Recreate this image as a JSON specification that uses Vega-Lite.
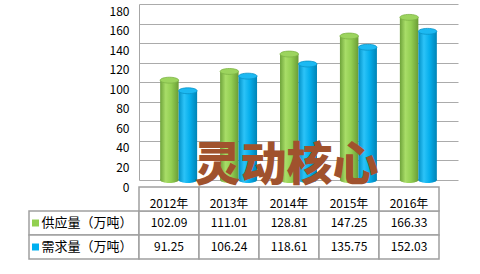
{
  "$schema": "https://vega.github.io/schema/vega-lite/v6.json",
  "autosize": {"type": "pad"},
  "padding": {"left": 28, "top": 4, "right": 23, "bottom": 15},
  "background": "white",
  "bounds": "flush",
  "columns": 2,
  "spacing": {"row": 7, "column": 0},
  "config": {
    "view": {"stroke": null},
    "font": "Noto Sans CJK SC",
    "text": {"font": "Noto Sans CJK SC"}
  },
  "datasets": {
    "d": [
      {"year": "2012年", "series": "供应量（万吨）", "value": 102.09},
      {"year": "2012年", "series": "需求量（万吨）", "value": 91.25},
      {"year": "2013年", "series": "供应量（万吨）", "value": 111.01},
      {"year": "2013年", "series": "需求量（万吨）", "value": 106.24},
      {"year": "2014年", "series": "供应量（万吨）", "value": 128.81},
      {"year": "2014年", "series": "需求量（万吨）", "value": 118.61},
      {"year": "2015年", "series": "供应量（万吨）", "value": 147.25},
      {"year": "2015年", "series": "需求量（万吨）", "value": 135.75},
      {"year": "2016年", "series": "供应量（万吨）", "value": 166.33},
      {"year": "2016年", "series": "需求量（万吨）", "value": 152.03}
    ]
  },
  "concat": [
    {
      "width": 110,
      "height": 176,
      "data": {"values": [{"blank": ""}]},
      "mark": {"type": "text", "opacity": 0},
      "encoding": {"text": {"field": "blank"}}
    },
    {
      "width": 319,
      "height": 176,
      "layer": [
        {
          "data": {"name": "d"},
          "transform": [{"filter": "datum.series === '供应量（万吨）'"}],
          "layer": [
            {
              "mark": {
                "type": "bar",
                "fill": {"gradient": "linear", "x1": 0, "y1": 0, "x2": 1, "y2": 0,
                  "stops": [{"offset": 0, "color": "#6ea33a"}, {"offset": 0.3, "color": "#a8dd68"}, {"offset": 0.6, "color": "#93cf52"}, {"offset": 1, "color": "#6a9c36"}]}
              },
              "encoding": {
                "x": {"field": "year", "type": "nominal", "axis": null, "scale": {"paddingInner": 0.383, "paddingOuter": 0.353}},
                "xOffset": {"field": "series", "type": "nominal", "scale": {"domain": ["供应量（万吨）", "需求量（万吨）"], "paddingInner": 0, "paddingOuter": 0}},
                "y": {"field": "value", "type": "quantitative",
                  "scale": {"domain": [0, 180], "nice": false},
                  "axis": {"values": [0, 20, 40, 60, 80, 100, 120, 140, 160, 180], "tickCount": 20, "grid": true, "gridColor": "#ababab", "gridWidth": 1,
                    "domainColor": "#a6a6a6", "ticks": false, "labelPadding": 10, "labelOffset": 7, "labelFontSize": 12,
                    "labelOverlap": false, "labelBound": false, "labelFlush": false,
                    "labelColor": "#000000", "labelFont": "Noto Sans CJK SC", "title": null}}
              }
            },
            {
              "mark": {"type": "point", "shape": "M -1 0 A 1 0.32 0 1 1 1 0 A 1 0.32 0 1 1 -1 0 Z", "size": 339, "filled": true, "opacity": 1, "strokeWidth": 0,
                "fill": {"gradient": "linear", "x1": 0, "y1": 0, "x2": 1, "y2": 0,
                  "stops": [{"offset": 0, "color": "#6ea33a"}, {"offset": 0.3, "color": "#a8dd68"}, {"offset": 0.6, "color": "#93cf52"}, {"offset": 1, "color": "#6a9c36"}]}},
              "encoding": {
                "x": {"field": "year", "type": "nominal", "axis": null},
                "xOffset": {"field": "series", "type": "nominal"},
                "y": {"datum": 0, "type": "quantitative"}
              }
            },
            {
              "mark": {"type": "point", "shape": "M -1 0 A 1 0.32 0 1 1 1 0 A 1 0.32 0 1 1 -1 0 Z", "size": 339, "filled": true, "opacity": 1, "fill": "#9cd45e", "stroke": "#7db446", "strokeWidth": 0.8},
              "encoding": {
                "x": {"field": "year", "type": "nominal", "axis": null},
                "xOffset": {"field": "series", "type": "nominal"},
                "y": {"field": "value", "type": "quantitative"}
              }
            }
          ]
        },
        {
          "data": {"name": "d"},
          "transform": [{"filter": "datum.series === '需求量（万吨）'"}],
          "layer": [
            {
              "mark": {
                "type": "bar",
                "fill": {"gradient": "linear", "x1": 0, "y1": 0, "x2": 1, "y2": 0,
                  "stops": [{"offset": 0, "color": "#0090c6"}, {"offset": 0.3, "color": "#2cc3f8"}, {"offset": 0.6, "color": "#06afec"}, {"offset": 1, "color": "#0083b5"}]}
              },
              "encoding": {
                "x": {"field": "year", "type": "nominal", "axis": null},
                "xOffset": {"field": "series", "type": "nominal"},
                "y": {"field": "value", "type": "quantitative"}
              }
            },
            {
              "mark": {"type": "point", "shape": "M -1 0 A 1 0.32 0 1 1 1 0 A 1 0.32 0 1 1 -1 0 Z", "size": 339, "filled": true, "opacity": 1, "strokeWidth": 0,
                "fill": {"gradient": "linear", "x1": 0, "y1": 0, "x2": 1, "y2": 0,
                  "stops": [{"offset": 0, "color": "#0090c6"}, {"offset": 0.3, "color": "#2cc3f8"}, {"offset": 0.6, "color": "#06afec"}, {"offset": 1, "color": "#0083b5"}]}},
              "encoding": {
                "x": {"field": "year", "type": "nominal", "axis": null},
                "xOffset": {"field": "series", "type": "nominal"},
                "y": {"datum": 0, "type": "quantitative"}
              }
            },
            {
              "mark": {"type": "point", "shape": "M -1 0 A 1 0.32 0 1 1 1 0 A 1 0.32 0 1 1 -1 0 Z", "size": 339, "filled": true, "opacity": 1, "fill": "#1cb9f2", "stroke": "#0a93c6", "strokeWidth": 0.8},
              "encoding": {
                "x": {"field": "year", "type": "nominal", "axis": null},
                "xOffset": {"field": "series", "type": "nominal"},
                "y": {"field": "value", "type": "quantitative"}
              }
            }
          ]
        },
        {
          "data": {"values": [{"wm": "灵动核心"}]},
          "mark": {"type": "text", "fontSize": 46, "fontWeight": 900, "fill": "#a0522d", "dx": -12, "dy": -4, "baseline": "middle", "align": "center"},
          "encoding": {
            "x": {"datum": "2014年", "type": "nominal"},
            "y": {"datum": 10, "type": "quantitative"},
            "text": {"field": "wm"}
          }
        }
      ]
    },
    {
      "width": 110,
      "height": 72,
      "data": {"name": "d"},
      "transform": [{"aggregate": [{"op": "count", "as": "n"}], "groupby": ["series"]}],
      "encoding": {
        "y": {"field": "series", "type": "nominal", "axis": null,
          "scale": {"domain": ["hdr", "供应量（万吨）", "需求量（万吨）"], "paddingInner": 0, "paddingOuter": 0}}
      },
      "layer": [
        {"mark": {"type": "rect", "fill": "white", "stroke": "#a0a0a0", "strokeWidth": 1.5}},
        {
          "mark": {"type": "point", "shape": "square", "filled": true, "size": 49, "opacity": 1, "xOffset": -48.5},
          "encoding": {"color": {"field": "series", "type": "nominal", "legend": null,
            "scale": {"domain": ["供应量（万吨）", "需求量（万吨）"], "range": ["#92d050", "#00b0f0"]}}}
        },
        {
          "mark": {"type": "text", "align": "left", "dx": -42.5, "fontSize": 13, "fill": "#000000", "baseline": "middle"},
          "encoding": {"text": {"field": "series"}}
        }
      ]
    },
    {
      "width": 300,
      "height": 72,
      "layer": [
        {
          "data": {"name": "d"},
          "mark": {"type": "rect", "fill": "white", "stroke": "#a0a0a0", "strokeWidth": 1.5},
          "encoding": {
            "x": {"field": "year", "type": "nominal", "axis": null, "scale": {"paddingInner": 0, "paddingOuter": 0}},
            "y": {"field": "series", "type": "nominal", "axis": null,
              "scale": {"domain": ["hdr", "供应量（万吨）", "需求量（万吨）"], "paddingInner": 0, "paddingOuter": 0}}
          }
        },
        {
          "data": {"name": "d"},
          "transform": [{"aggregate": [{"op": "count", "as": "n"}], "groupby": ["year"]}],
          "mark": {"type": "rect", "fill": "white", "stroke": "#a0a0a0", "strokeWidth": 1.5},
          "encoding": {
            "x": {"field": "year", "type": "nominal", "axis": null},
            "y": {"datum": "hdr", "type": "nominal"}
          }
        },
        {
          "data": {"name": "d"},
          "mark": {"type": "text", "fontSize": 12, "fill": "#000000", "baseline": "middle"},
          "encoding": {
            "x": {"field": "year", "type": "nominal", "axis": null},
            "y": {"field": "series", "type": "nominal"},
            "text": {"field": "value", "type": "quantitative", "format": ".2f"}
          }
        },
        {
          "data": {"name": "d"},
          "transform": [{"aggregate": [{"op": "count", "as": "n"}], "groupby": ["year"]}],
          "mark": {"type": "text", "fontSize": 12, "fill": "#000000", "baseline": "middle", "dy": 4.5},
          "encoding": {
            "x": {"field": "year", "type": "nominal", "axis": null},
            "y": {"datum": "hdr", "type": "nominal"},
            "text": {"field": "year"}
          }
        }
      ]
    }
  ]
}
